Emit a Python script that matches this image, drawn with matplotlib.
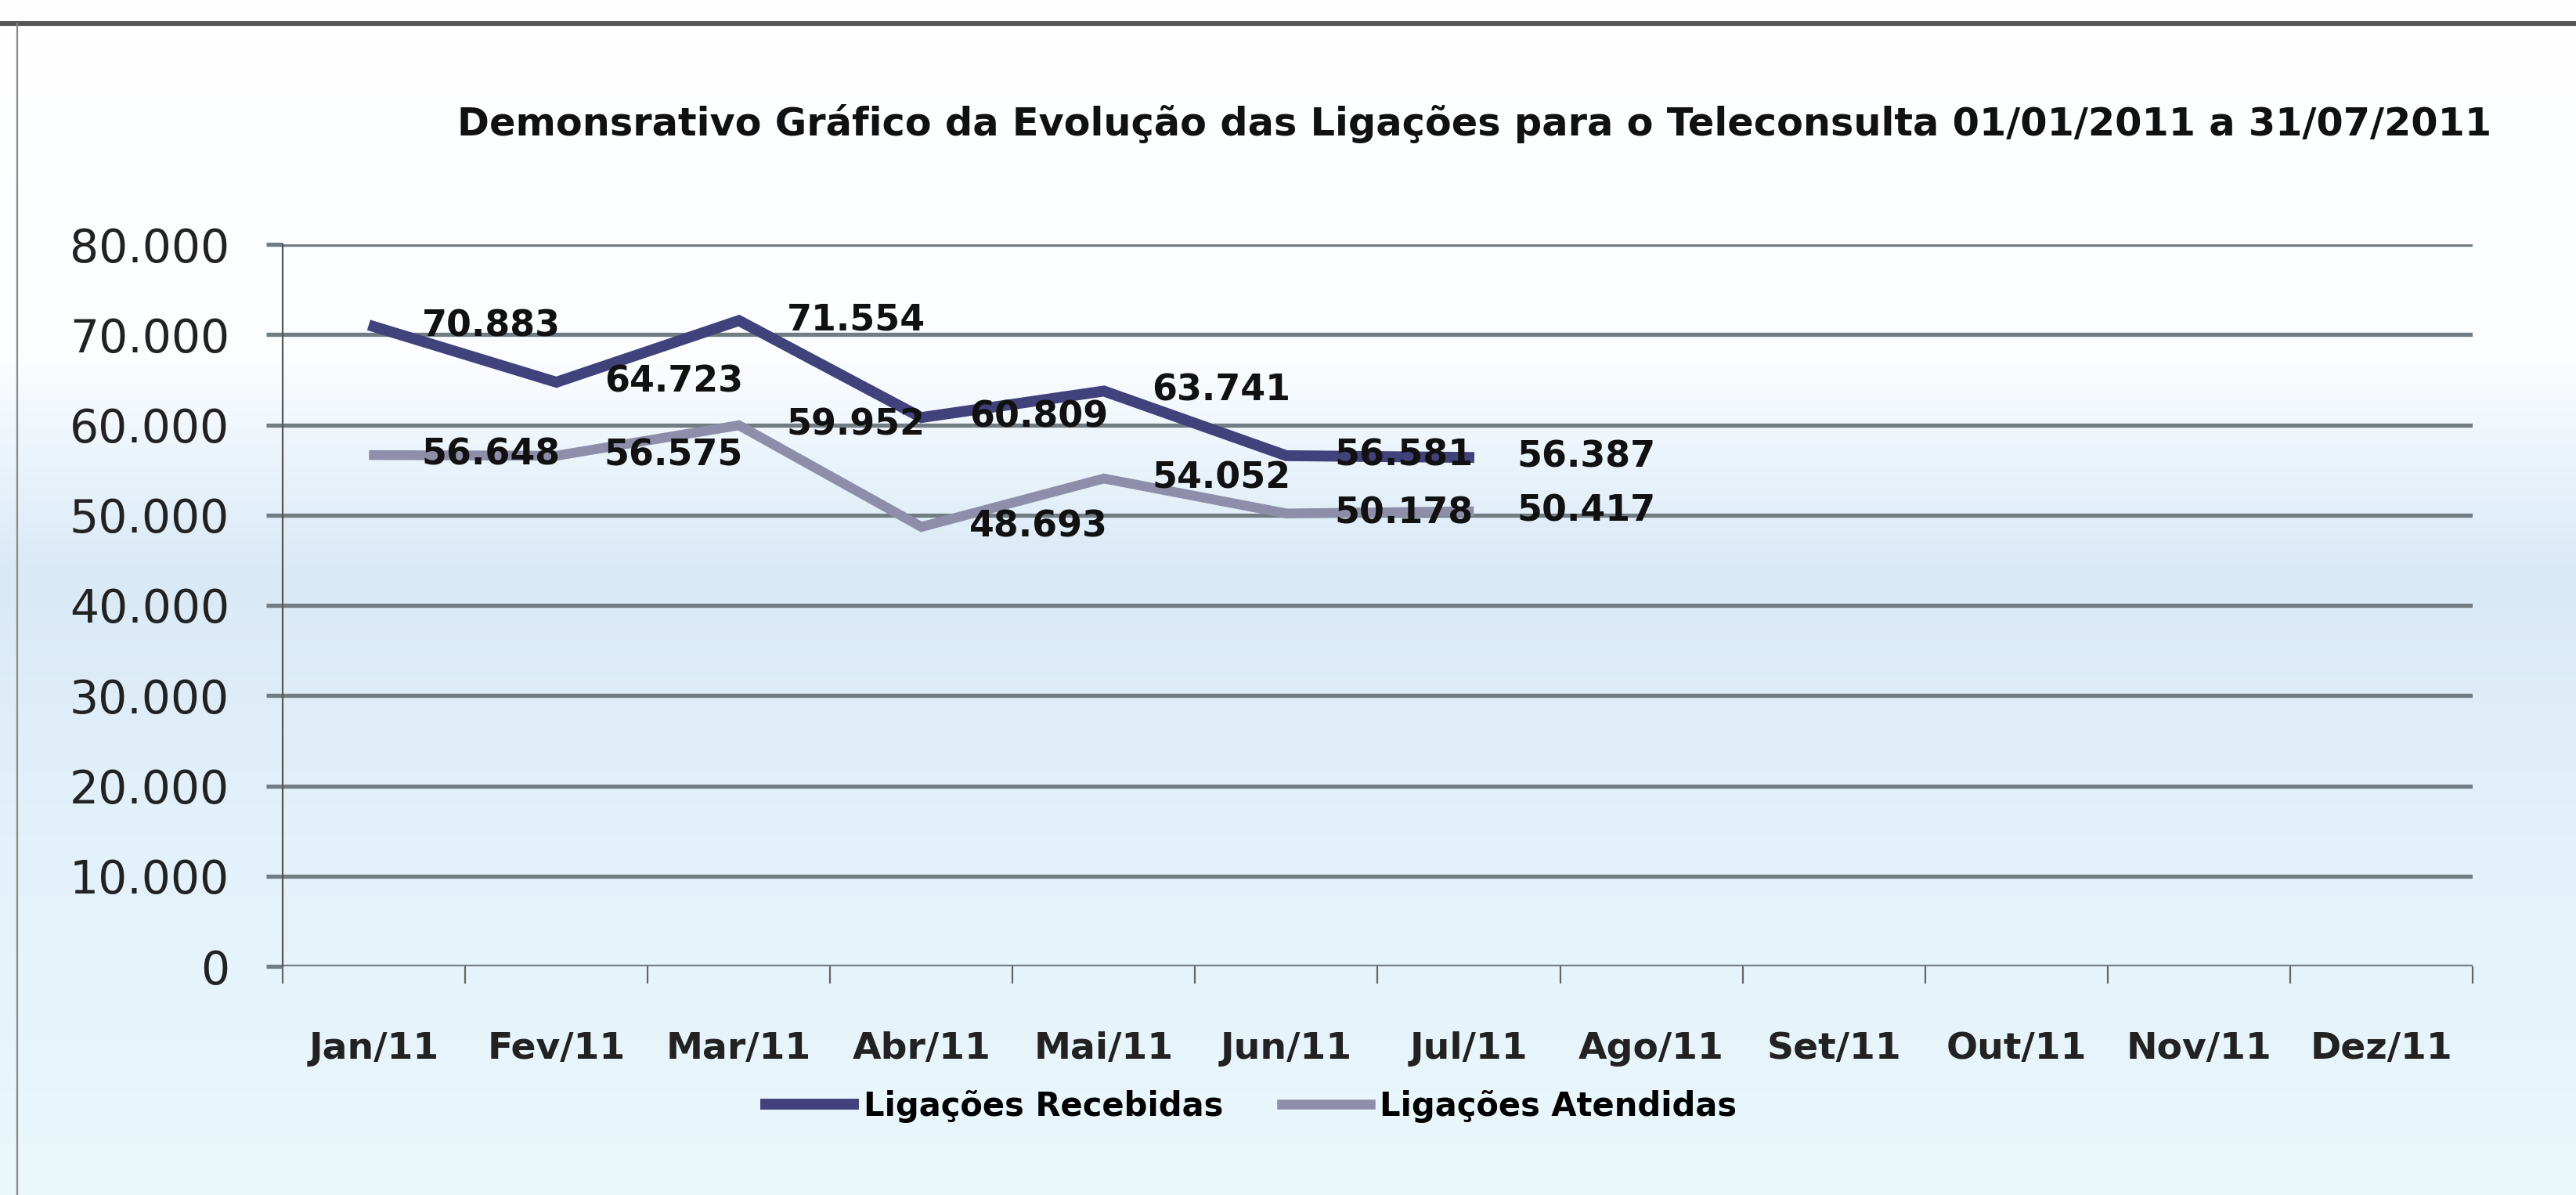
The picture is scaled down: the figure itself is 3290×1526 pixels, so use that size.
import numpy as np
import matplotlib
matplotlib.use("Agg")
import matplotlib.pyplot as plt
from matplotlib.colors import LinearSegmentedColormap

meses = ["Jan/11", "Fev/11", "Mar/11", "Abr/11", "Mai/11", "Jun/11",
         "Jul/11", "Ago/11", "Set/11", "Out/11", "Nov/11", "Dez/11"]
recebidas = [70883, 64723, 71554, 60809, 63741, 56581, 56387]
atendidas = [56648, 56575, 59952, 48693, 54052, 50178, 50417]
y_ticks = [0, 10000, 20000, 30000, 40000, 50000, 60000, 70000, 80000]

titulo = ("Demonsrativo Gráfico da Evolução das Ligações para o "
          "Teleconsulta 01/01/2011 a 31/07/2011")

cor_receb = "#41417c"
cor_atend = "#8e8eaa"


def fmt(v):
    return f"{v:,}".replace(",", ".")


W, H = 3291, 1526
fig = plt.figure(figsize=(W / 200, H / 200), dpi=200)

# fundo em degrade (branco em cima, azul claro embaixo)
bg = fig.add_axes([0, 0, 1, 1], zorder=-10)
cmap = LinearSegmentedColormap.from_list(
    "fundo", [(0, "#ffffff"), (0.3, "#fbfdff"), (0.48, "#d9e9f6"),
              (0.7, "#e3f1fa"), (1, "#eaf7fb")])
grad = np.linspace(0, 1, 256).reshape(-1, 1)
bg.imshow(grad, aspect="auto", cmap=cmap, extent=[0, 1, 0, 1])
bg.plot([0, 1], [1 - 30 / H, 1 - 30 / H], color="#555555", lw=2.2)
bg.plot([22 / W, 22 / W], [0, 1 - 30 / H], color="#888888", lw=0.8)
bg.set_xlim(0, 1)
bg.set_ylim(0, 1)
bg.axis("off")

ax = fig.add_axes([361 / W, 1 - 1234 / H, (3158 - 361) / W, (1234 - 312) / H])
ax.patch.set_alpha(0)

x = np.arange(len(recebidas)) + 0.5
ax.plot(x, recebidas, color=cor_receb, lw=5.0, solid_joinstyle="miter",
        label="Ligações Recebidas", zorder=3)
ax.plot(x, atendidas, color=cor_atend, lw=4.5, solid_joinstyle="miter",
        label="Ligações Atendidas", zorder=3)

for xi, v in zip(x, recebidas):
    ax.annotate(fmt(v), (xi, v), xytext=(22, 0), textcoords="offset points",
                ha="left", va="center", fontsize=16.5, fontweight="bold",
                color="#111111", zorder=5)
for xi, v in zip(x, atendidas):
    ax.annotate(fmt(v), (xi, v), xytext=(22, 0), textcoords="offset points",
                ha="left", va="center", fontsize=16.5, fontweight="bold",
                color="#111111", zorder=5)

ax.set_xlim(0, len(meses))
ax.set_ylim(0, 80000)
ax.set_yticks(y_ticks)
ax.set_yticklabels([fmt(v) for v in y_ticks], fontsize=21, color="#222222")
ax.yaxis.grid(True, color="#727d83", lw=1.9)
ax.set_axisbelow(True)
ax.tick_params(axis="y", length=7.5, width=1.9, color="#727d83", pad=17)

ax.set_xticks(np.arange(len(meses) + 1))
ax.set_xticklabels([])
ax.set_xticks(np.arange(len(meses)) + 0.5, minor=True)
ax.set_xticklabels(meses, minor=True, fontsize=17, fontweight="bold",
                   color="#222222")
ax.tick_params(axis="x", which="major", length=8, width=0.8, color="#666666")
ax.tick_params(axis="x", which="minor", length=0, pad=30)

for s in ["top", "right", "bottom"]:
    ax.spines[s].set_visible(False)
ax.spines["left"].set_color("#555555")
ax.spines["left"].set_linewidth(0.8)

fig.text(1883 / W, 1 - 158 / H, titulo, ha="center", va="center",
         fontsize=17.8, fontweight="bold", color="#111111")

fig.legend(loc="center", bbox_to_anchor=(1598 / W, 1 - 1413 / H), ncol=2,
           frameon=False, handlelength=2.7, handletextpad=0.3,
           columnspacing=1.8, prop={"size": 15, "weight": "bold"})

fig.savefig("out.png", dpi=200)
